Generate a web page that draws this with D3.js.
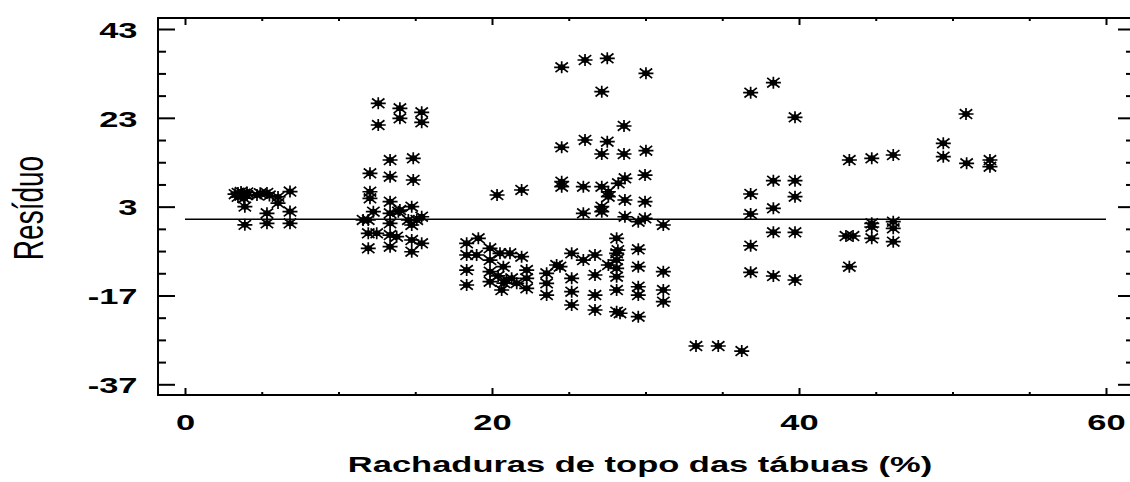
<!DOCTYPE html>
<html><head><meta charset="utf-8">
<script src="https://cdn.jsdelivr.net/npm/d3@7"></script>
<style>body{margin:0;background:#fff}svg{display:block}</style>
</head><body>
<svg id="c" width="1130" height="482"></svg>
<script>
// ---- data ----
const xTickValues = [0, 20, 40, 60];
const xMinorValues = [5, 10, 15, 25, 30, 35, 45, 50, 55];
const yTickValues = [43, 23, 3, -17, -37];
const yMinorValues = [38, 33, 28, 18, 13, 8, -2, -7, -12, -22, -27, -32];
const xTitle = "Rachaduras de topo das tábuas (%)";
const yTitle = "Resíduo";

// [rachaduras (%), resíduo] by group of boards
const grupoA = [[3.26,5.8],[3.45,6.1],[3.45,5.2],[3.65,6.3],[3.65,5.5],[3.84,5.9],[3.84,4.9],[4.04,5.6],[4.04,6.2],[3.9,3.0],[3.9,-1.1],[4.69,5.6],[4.9,6.0],[5.34,6.1],[5.5,5.5],[5.34,1.5],[5.34,-0.75],[6.06,5.2],[6.06,3.8],[6.84,6.4],[6.84,1.9],[6.84,-0.75]];
const grupoB = [[12.59,26.27],[12.59,21.38],[14.0,25.14],[14.0,22.89],[15.42,24.24],[15.42,21.99],[13.36,13.5],[13.36,9.74],[14.87,13.89],[14.87,9.0],[12.05,10.51],[12.05,6.36],[12.05,4.88],[13.36,4.11],[12.27,1.86],[11.94,0.0],[11.94,-3.0],[12.49,-3.0],[11.94,-6.38],[13.36,1.5],[13.36,-0.75],[13.36,-3.39],[13.79,-3.77],[13.36,-6.02],[14.0,2.24],[14.77,2.99],[14.77,-1.13],[14.77,-4.51],[14.77,-7.15],[15.42,0.73],[15.42,-5.25],[15.1,0.0],[11.6,0.0],[13.9,1.86],[14.55,0.0]];
const grupoC = [[18.35,-5.25],[19.11,-4.13],[18.35,-7.89],[18.35,-11.27],[18.35,-14.64],[19.0,-7.89],[19.87,-6.38],[19.87,-9.02],[19.87,-11.65],[19.87,-13.9],[20.52,-7.51],[21.17,-7.51],[20.74,-10.52],[20.96,-13.52],[21.28,-13.14],[20.63,-15.77],[21.93,-8.27],[22.26,-11.27],[22.26,-13.14],[22.26,-15.39],[21.61,-14.26],[23.56,-12.01],[23.56,-14.26],[23.56,-16.9],[24.21,-10.14],[20.33,5.62],[21.93,6.75],[20.78,-14.2],[20.4,-12.6]];
const grupoD = [[24.54,34.38],[26.06,36.02],[27.51,36.4],[30.03,33.02],[27.15,28.88],[28.6,21.16],[24.54,16.36],[26.06,18.01],[27.51,17.62],[27.15,14.85],[28.6,14.85],[30.03,15.6],[24.54,8.62],[24.54,7.49],[25.95,7.49],[27.15,7.49],[27.58,6.36],[27.58,5.24],[28.23,8.26],[28.66,9.38],[29.97,10.12],[28.66,4.5],[29.97,4.11],[25.95,1.5],[27.15,2.99],[27.15,1.86],[28.66,0.73],[29.53,-0.39],[29.97,0.37],[31.16,-1.13],[28.12,-4.13],[29.53,-6.61],[28.12,-7.51],[25.19,-7.51],[25.95,-9.02],[26.71,-7.89],[24.43,-10.52],[27.58,-10.14],[28.12,-10.88],[29.53,-10.52],[31.16,-11.65],[25.19,-13.14],[26.71,-12.39],[28.12,-12.77],[25.19,-16.15],[26.71,-16.9],[28.12,-15.77],[29.53,-15.03],[29.53,-16.9],[31.16,-15.77],[31.16,-18.4],[25.19,-19.15],[26.71,-20.27],[28.12,-20.66],[28.34,-21.0],[29.53,-21.78],[28.2,-6.8],[28.12,-9.02]];
const grupoE = [[33.29,-28.38],[34.74,-28.38],[36.27,-29.51]];
const grupoF = [[36.85,28.66],[38.33,30.91],[39.74,23.12],[38.33,8.84],[39.74,8.84],[36.85,5.85],[39.74,5.24],[38.33,2.63],[36.85,1.34],[38.33,-2.78],[39.74,-2.78],[36.85,-5.8],[36.85,-11.78],[38.33,-12.62],[39.74,-13.52]];
const grupoG = [[43.28,13.5],[44.74,13.89],[46.14,14.63],[49.4,17.26],[49.4,14.25],[50.92,12.76],[52.44,13.5],[52.44,12.0],[50.88,23.86],[43.06,-3.61],[43.52,-3.61],[43.28,-10.52],[44.74,-0.75],[44.74,-1.58],[44.74,-4.13],[46.14,-0.39],[46.14,-1.88],[46.14,-4.89]];
const pontos = [].concat(grupoA, grupoB, grupoC, grupoD, grupoE, grupoF, grupoG);
const linhaZero = [[0, 0.15], [60, 0.15]];

// ---- layout ----
const svg = d3.select("#c");
const frame = {left: 158, top: 18, right: 1135, bottom: 395};
const x = d3.scaleLinear().domain([0, 60]).range([185, 1106]);
const y = d3.scaleLinear().domain([43, -37]).range([29, 384.3]);
const font = "'Liberation Sans', Arial, sans-serif";
const SX = 1.5;
const fmt = d => String(d);

// frame
svg.append("rect")
  .attr("x", frame.left).attr("y", frame.top)
  .attr("width", frame.right - frame.left).attr("height", frame.bottom - frame.top)
  .attr("fill", "none").attr("stroke", "#000").attr("stroke-width", 2);

function styleAxis(g) {
  g.select(".domain").remove();
  g.selectAll(".tick line").attr("stroke", "#000").attr("stroke-width", 2);
}

// left axis (major with labels)
const gl = svg.append("g").attr("transform", `translate(${frame.left},0)`)
  .call(d3.axisLeft(y).tickValues(yTickValues).tickSize(-17).tickSizeOuter(0).tickFormat(fmt));
styleAxis(gl);
gl.selectAll(".tick text")
  .attr("x", 0).attr("dy", "0.36em")
  .attr("transform", `translate(-20.5,0) scale(${SX},1)`)
  .attr("text-anchor", "end")
  .style("font-family", font).style("font-size", "23px").style("font-weight", "bold").attr("fill", "#000");
svg.append("g").attr("transform", `translate(${frame.left},0)`)
  .call(d3.axisLeft(y).tickValues(yMinorValues).tickSize(-8).tickSizeOuter(0).tickFormat(""))
  .call(styleAxis);
// right axis
svg.append("g").attr("transform", `translate(${frame.right},0)`)
  .call(d3.axisRight(y).tickValues(yTickValues).tickSize(-17).tickSizeOuter(0).tickFormat(""))
  .call(styleAxis);
svg.append("g").attr("transform", `translate(${frame.right},0)`)
  .call(d3.axisRight(y).tickValues(yMinorValues).tickSize(-9).tickSizeOuter(0).tickFormat(""))
  .call(styleAxis);

// bottom axis
const gb = svg.append("g").attr("transform", `translate(0,${frame.bottom})`)
  .call(d3.axisBottom(x).tickValues(xTickValues).tickSize(-7).tickSizeOuter(0).tickFormat(fmt));
styleAxis(gb);
gb.selectAll(".tick text")
  .attr("y", 0).attr("dy", 0)
  .attr("transform", `translate(0,35) scale(${SX},1)`)
  .attr("text-anchor", "middle")
  .style("font-family", font).style("font-size", "23px").style("font-weight", "bold").attr("fill", "#000");
svg.append("g").attr("transform", `translate(0,${frame.bottom})`)
  .call(d3.axisBottom(x).tickValues(xMinorValues).tickSize(-3).tickSizeOuter(0).tickFormat(""))
  .call(styleAxis);
// top axis
svg.append("g").attr("transform", `translate(0,${frame.top})`)
  .call(d3.axisTop(x).tickValues(xTickValues).tickSize(-7).tickSizeOuter(0).tickFormat(""))
  .call(styleAxis);
svg.append("g").attr("transform", `translate(0,${frame.top})`)
  .call(d3.axisTop(x).tickValues(xMinorValues).tickSize(-3).tickSizeOuter(0).tickFormat(""))
  .call(styleAxis);

// zero line
svg.append("path")
  .attr("d", d3.line().x(d => x(d[0])).y(d => y(d[1]))(linhaZero))
  .attr("stroke", "#000").attr("stroke-width", 1.6).attr("fill", "none");

// asterisk markers
const star = "M-7.5,0H7.5M0,-6V6M-6.2,-4.8L6.2,4.8M-6.2,4.8L6.2,-4.8";
const gm = svg.append("g");
const mk = gm.selectAll("g.m").data(pontos).join("g")
  .attr("class", "m")
  .attr("transform", d => `translate(${x(d[0])},${y(d[1])})`);
mk.append("path").attr("d", star).attr("stroke", "#000").attr("stroke-width", 1.7).attr("fill", "none");
mk.append("ellipse").attr("rx", 3.8).attr("ry", 3).attr("fill", "#000");

// titles
svg.append("text")
  .attr("transform", `translate(640,472) scale(${SX},1)`)
  .attr("text-anchor", "middle")
  .style("font-family", font).style("font-size", "23px").style("font-weight", "bold")
  .attr("fill", "#000").text(xTitle);
svg.append("text")
  .attr("transform", `translate(43,208) scale(${SX},1) rotate(-90)`)
  .attr("text-anchor", "middle")
  .style("font-family", font).style("font-size", "28px")
  .attr("fill", "#000").text(yTitle);
</script>
</body></html>
